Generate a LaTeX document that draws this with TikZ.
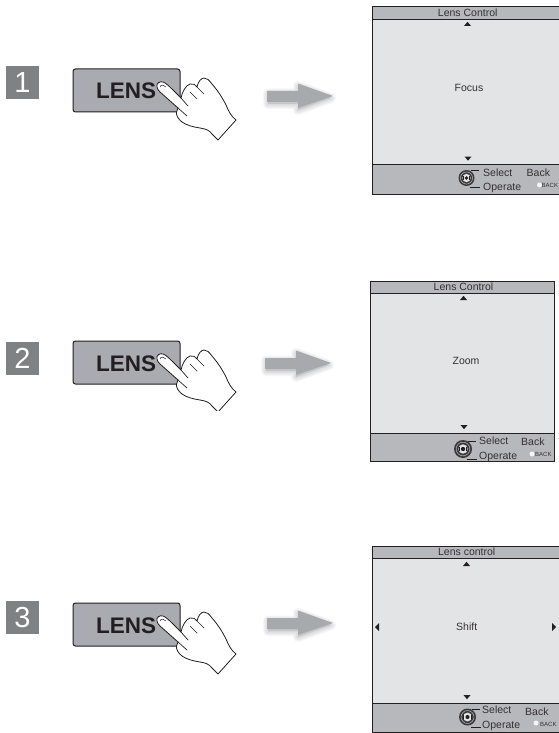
\documentclass[tikz,border=0pt]{standalone}
\usepackage{fontspec}
\setmainfont{Liberation Sans}
\definecolor{numbox}{HTML}{808183}
\definecolor{btnfill}{HTML}{A9ABB1}
\definecolor{barfill}{HTML}{B6B8BB}
\definecolor{bodyfill}{HTML}{E3E4E6}
\definecolor{arrowfill}{HTML}{A7A9AC}
\definecolor{inkc}{HTML}{231F20}
\tikzset{
  numlabel/.style={fill=numbox,text=white,minimum size=33pt,inner sep=0pt,font=\fontsize{29}{29}\selectfont},
  lensbtn/.style={draw=inkc,line width=1pt,fill=btnfill,rounded corners=2.5pt},
  lenstext/.style={text=inkc,inner sep=0pt,font=\bfseries\fontsize{22.5}{22.5}\selectfont,anchor=base west},
  handshape/.style={draw=inkc,line width=.8pt,fill=white,line join=round},
  handline/.style={draw=inkc,line width=.7pt,line cap=round},
  screenbody/.style={draw=inkc,line width=.8pt,fill=bodyfill},
  screenbar/.style={draw=inkc,line width=.8pt,fill=barfill},
  scrtext/.style={text=inkc!92,inner sep=0pt,font=\fontsize{10.5}{10.5}\selectfont,anchor=base west},
  scrmid/.style={scrtext,anchor=base},
  backtext/.style={text=inkc!92,inner sep=0pt,font=\fontsize{6}{6}\selectfont,anchor=base west},
  tri/.style={fill=inkc,draw=none},
  dot/.style={fill=white!85!barfill,draw=none},
}
% button with hand; #1 = name prefix, #2 = vertical offset
\newcommand{\lensbutton}[2]{%
\begin{scope}[shift={(0,#2)},name prefix=#1-]
  \draw[lensbtn] (73,69) rectangle (180,112);
  \node[lenstext] (lens) at (96,99) {LENS};
  \draw[handshape] (157,87) .. controls (156,83) and (160,81) .. (163,82)
    .. controls (166,83) and (168,85) .. (181,98)
    .. controls (182,92) and (186,85) .. (190,84)
    .. controls (193,83) and (196,85) .. (197,87)
    .. controls (198,82) and (201,78) .. (204,78)
    .. controls (207,78) and (209,80) .. (212,84)
    .. controls (218,91) and (222,97) .. (226,105)
    .. controls (229,112) and (231,116) .. (236,120)
    -- (218,140) -- (212,134)
    .. controls (209,130) and (206,129) .. (200,128)
    .. controls (193,127) and (186,125) .. (182,122)
    .. controls (178,119) and (176,115) .. (176.5,112)
    .. controls (177,110) and (178,109) .. (178,108)
    -- (160,92) .. controls (158,90) and (157.5,89) .. (157,87) -- cycle;
  \draw[handline] (181,98) -- (188,106);
  \draw[handline] (190,92) -- (197,99);
  \draw[handline] (197,87) -- (204,94);
  \draw[handline] (178,108) -- (187,116);
  \draw[handline,line width=.5pt] (160,87) .. controls (161,84) and (164,85) .. (166,87);
\end{scope}}
% grey block arrow with soft shadow; #1 offset x, #2 offset y
\newcommand{\softarrow}[2]{%
\begin{scope}[shift={(#1,#2)}]
  \foreach \w in {10,8,6,4,2}{
    \fill[arrowfill,opacity=.09,draw=arrowfill,line width=\w pt,line join=round]
      (268,93.5) -- (298,93.5) -- (298,86) -- (331,98) -- (298,110) -- (298,104) -- (268,104) -- cycle;}
  \fill[arrowfill,rounded corners=.6pt] (267,91) -- (298,91) -- (298,83.5) -- (333,96) -- (298,108) -- (298,102) -- (267,102) -- cycle;
\end{scope}}
% operation dial; #1 x, #2 y, #3 radius
\newcommand{\opdial}[3]{%
\begin{scope}[shift={(#1,#2)}]
  \draw[inkc,line width=.7pt] (#3*.5,-#3*.9) -- (#3+4,-#3*.9);
  \draw[inkc,line width=.7pt] (#3*.4,#3*1.2) -- (#3+5,#3*1.2);
  \fill[inkc!88] (0,0) circle (#3);
  \draw[barfill,line width=.5pt] (0,0) circle (#3*.76);
  \fill[bodyfill] (0,0) circle (#3*.52);
  \fill[inkc] (0,0) circle (#3*.24);
  \draw[inkc,line width=.9pt] (-#3*.42,#3*.25) -- (-#3*.42,-#3*.25) (#3*.42,#3*.25) -- (#3*.42,-#3*.25);
\end{scope}}
\newcommand{\uptri}[2]{\fill[tri] (#1-3.5,#2+2) -- (#1+3.5,#2+2) -- (#1,#2-2.2) -- cycle;}
\newcommand{\downtri}[2]{\fill[tri] (#1-3.5,#2-2) -- (#1+3.5,#2-2) -- (#1,#2+2.2) -- cycle;}
\begin{document}
\begin{tikzpicture}[x=1pt,y=-1pt]
\useasboundingbox (0,0) rectangle (558,733);
\fill[white] (0,0) rectangle (558,733);

% numbers
\node[numlabel] (n1) at (22.5,82.5) {1};
\node[numlabel] (n2) at (22.5,358.5) {2};
\node[numlabel] (n3) at (22.5,617.5) {3};

\lensbutton{a}{0}
\lensbutton{b}{272}
\fill[white] (195,410.8) rectangle (240,418);
\lensbutton{c}{534}

\softarrow{0}{0}
\softarrow{-2}{267}
\softarrow{0}{527}

% screen 1
\draw[screenbar] (372.5,6) rectangle (560,19);
\draw[screenbody] (372.5,19) rectangle (560,164);
\draw[screenbar] (372.5,164) rectangle (560,194);
\node[scrmid] (t1) at (467.7,16.7) {Lens Control};
\node[scrmid] (f1) at (469,92) {Focus};
\uptri{467.5}{24}
\downtri{468}{158.5}
\opdial{466.5}{178}{8}
\node[scrtext] (s1) at (483,176) {Select};
\node[scrtext] (o1) at (483,190) {Operate};
\node[scrtext] (k1) at (526.5,176) {Back};
\fill[dot] (539.5,185) circle (2.5);
\node[backtext] (b1) at (541.5,187.5) {BACK};

% screen 2
\draw[screenbar] (370.5,281) rectangle (554,293);
\draw[screenbody] (370.5,293) rectangle (554,433);
\draw[screenbar] (370.5,433) rectangle (554,461);
\node[scrmid] (t2) at (463.5,290.7) {Lens Control};
\node[scrmid] (f2) at (466,364) {Zoom};
\uptri{463.5}{298}
\downtri{464}{427}
\opdial{463}{449}{9}
\node[scrtext] (s2) at (479,444) {Select};
\node[scrtext] (o2) at (479,459.3) {Operate};
\node[scrtext] (k2) at (521,445.7) {Back};
\fill[dot] (532,454) circle (2.5);
\node[backtext] (b2) at (535,456.7) {BACK};

% screen 3
\draw[screenbar] (372.5,546) rectangle (560,558);
\draw[screenbody] (372.5,558) rectangle (560,703);
\draw[screenbar] (372.5,703) rectangle (560,732);
\node[scrmid] (t3) at (466.7,555) {Lens control};
\node[scrmid] (f3) at (466.7,630.7) {Shift};
\uptri{466.5}{564}
\downtri{467}{697}
\fill[tri] (375,627) -- (379,623) -- (379,631) -- cycle;
\fill[tri] (556,627) -- (552,623) -- (552,631) -- cycle;
\opdial{467.5}{717}{8.5}
\node[scrtext] (s3) at (482,713.3) {Select};
\node[scrtext] (o3) at (482,728.3) {Operate};
\node[scrtext] (k3) at (525,715) {Back};
\fill[dot] (536,723) circle (2.5);
\node[backtext] (b3) at (540,726) {BACK};
\end{tikzpicture}
\end{document}
